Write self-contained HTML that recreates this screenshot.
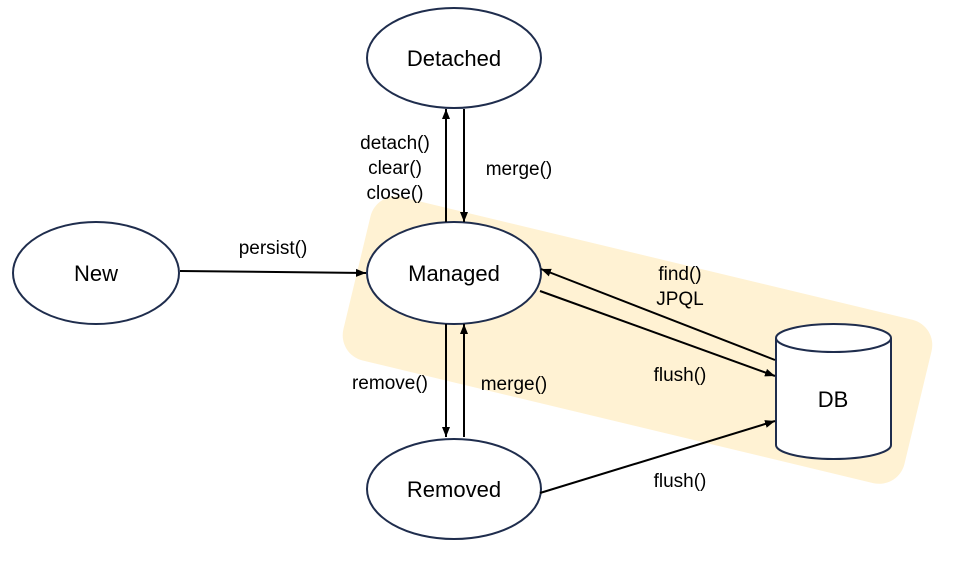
<!DOCTYPE html>
<html><head><meta charset="utf-8"><style>html,body{margin:0;padding:0;background:#fff}svg{display:block}</style></head><body>
<svg width="978" height="567" viewBox="0 0 978 567" xmlns="http://www.w3.org/2000/svg" font-family="Liberation Sans, sans-serif">
<defs><marker id="a" viewBox="0 0 10 10" refX="10" refY="5" markerWidth="5" markerHeight="5" orient="auto-start-reverse"><path d="M0,1 L10,5 L0,9 z" fill="#000"/></marker></defs>
<rect x="349" y="256" width="577" height="168" rx="26" fill="#fff2d3" transform="rotate(13.5 637 340)"/>
<g fill="#fff" stroke="#1f2d4d" stroke-width="2">
<ellipse cx="454" cy="58" rx="87" ry="50"/>
<ellipse cx="454" cy="273" rx="87" ry="51"/>
<ellipse cx="96" cy="273" rx="83" ry="51"/>
<ellipse cx="454" cy="489" rx="87" ry="50"/>
<path d="M776,338 L776,445 A57.5,14 0 0 0 891,445 L891,338"/>
<ellipse cx="833.5" cy="338" rx="57.5" ry="14"/>
</g>
<g stroke="#000" stroke-width="2" marker-end="url(#a)">
<line x1="446" y1="222" x2="446" y2="109"/>
<line x1="464" y1="109" x2="464" y2="222"/>
<line x1="446" y1="324" x2="446" y2="437"/>
<line x1="464" y1="437" x2="464" y2="324"/>
<line x1="180" y1="271" x2="366" y2="273"/>
<line x1="775" y1="360" x2="541" y2="269"/>
<line x1="540" y1="291" x2="775" y2="376"/>
<line x1="540" y1="493" x2="775" y2="421"/>
</g>
<g font-size="22" text-anchor="middle" fill="#000">
<text x="454" y="66">Detached</text>
<text x="454" y="281">Managed</text>
<text x="96" y="281">New</text>
<text x="454" y="497">Removed</text>
<text x="833" y="407">DB</text>
</g>
<g font-size="19" text-anchor="middle" fill="#000">
<text x="273" y="254">persist()</text>
<text x="395" y="149">detach()</text>
<text x="395" y="174">clear()</text>
<text x="395" y="199">close()</text>
<text x="519" y="175">merge()</text>
<text x="390" y="389">remove()</text>
<text x="514" y="390">merge()</text>
<text x="680" y="280">find()</text>
<text x="680" y="305">JPQL</text>
<text x="680" y="381">flush()</text>
<text x="680" y="487">flush()</text>
</g>
</svg>
</body></html>
